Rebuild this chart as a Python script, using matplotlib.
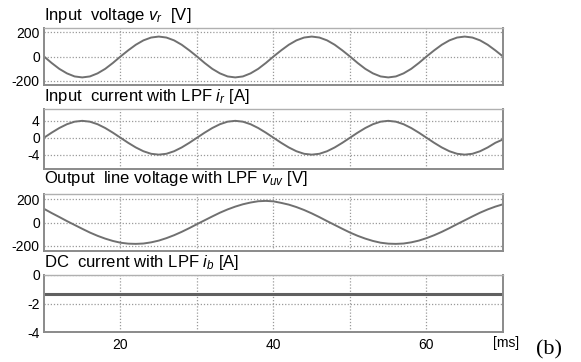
import matplotlib
matplotlib.use("Agg")
import matplotlib.pyplot as plt

plt.rcParams['font.family'] = ['Liberation Sans', 'DejaVu Sans']
plt.rcParams['mathtext.fontset'] = 'custom'
plt.rcParams['mathtext.rm'] = 'Liberation Sans'
plt.rcParams['mathtext.it'] = 'Liberation Sans:italic'

# time axis [ms]
t = list(range(10, 71))

# Input voltage v_r [V]
vr = [0, -53, -101, -138, -163, -171, -163, -138, -101, -53,
      0, 50, 96, 132, 155, 163, 155, 132, 96, 50,
      0, -53, -101, -138, -163, -171, -163, -138, -101, -53,
      0, 50, 96, 132, 155, 163, 155, 132, 96, 50,
      0, -53, -101, -138, -163, -171, -163, -138, -101, -53,
      0, 50, 96, 132, 155, 163, 155, 132, 96, 50,
      0]

# Input current with LPF i_r [A]
ir = [0, 1.2, 2.3, 3.2, 3.8, 4.0, 3.8, 3.2, 2.3, 1.2,
      0, -1.2, -2.3, -3.2, -3.8, -4.0, -3.8, -3.2, -2.3, -1.2,
      0, 1.2, 2.3, 3.2, 3.8, 4.0, 3.8, 3.2, 2.3, 1.2,
      0, -1.2, -2.3, -3.2, -3.8, -4.0, -3.8, -3.2, -2.3, -1.2,
      0, 1.2, 2.3, 3.2, 3.8, 4.0, 3.8, 3.2, 2.3, 1.2,
      0, -1.2, -2.3, -3.2, -3.8, -4.0, -3.8, -3.2, -2.3, -1.2,
      -0.4]

# Output line voltage with LPF v_uv [V]
vuv = [118, 82, 48, 13, -20, -53, -85, -113, -137, -157,
       -172, -180, -182, -179, -169, -154, -133, -108, -79, -47,
       -13, 20, 53, 85, 113, 137, 157, 172, 183, 186,
       182, 169, 154, 133, 108, 79, 47, 13, -20, -53,
       -85, -113, -137, -157, -172, -180, -182, -179, -169, -154,
       -133, -108, -79, -47, -13, 20, 53, 85, 113, 137,
       157]

# DC current with LPF i_b [A]
ib = [-1.33, -1.33, -1.33, -1.33, -1.33, -1.33, -1.33, -1.33, -1.33, -1.33,
      -1.33, -1.33, -1.33, -1.33, -1.33, -1.33, -1.33, -1.33, -1.33, -1.33,
      -1.33, -1.33, -1.33, -1.33, -1.33, -1.33, -1.33, -1.33, -1.33, -1.33,
      -1.33, -1.33, -1.33, -1.33, -1.33, -1.33, -1.33, -1.33, -1.33, -1.33,
      -1.33, -1.33, -1.33, -1.33, -1.33, -1.33, -1.33, -1.33, -1.33, -1.33,
      -1.33, -1.33, -1.33, -1.33, -1.33, -1.33, -1.33, -1.33, -1.33, -1.33,
      -1.33]

titles = ["Input  voltage $v_r$  [V]",
          "Input  current with LPF $i_r$ [A]",
          "Output  line voltage with LPF $v_{uv}$ [V]",
          "DC  current with LPF $i_b$ [A]"]
series = [vr, ir, vuv, ib]
yticks = [[-200, 0, 200], [-4, 0, 4], [-200, 0, 200], [-4, -2, 0]]
ylims = [(-233, 233), (-7.4, 6.8), (-243, 245), (-4, 0)]
xticks = [20, 30, 40, 50, 60]
xticklabels = ["20", "", "40", "", "60"]

W, H = 581, 362
fig = plt.figure(figsize=(W / 100, H / 100), dpi=100)

# pixel boxes (top, bottom)
boxes = [(28, 85), (109, 169), (194, 251), (275, 332)]
title_base = [20, 101, 183, 267]
left, right = 44, 503

line_c = '#707070'
grid_c = '#9a9a9a'
spine_c = '#8a8a8a'

for i in range(4):
    top, bot = boxes[i]
    ax = fig.add_axes([left / W, 1 - bot / H, (right - left) / W, (bot - top) / H])
    ax.plot(t, series[i], color=line_c if i < 3 else '#606060',
            lw=1.4 if i < 3 else 2.2, solid_capstyle='butt')
    ax.set_xlim(10, 70)
    ax.set_ylim(*ylims[i])
    ax.set_yticks(yticks[i])
    ax.set_yticklabels([str(v) for v in yticks[i]])
    ax.set_xticks(xticks)
    if i == 3:
        ax.set_xticklabels(xticklabels)
    else:
        ax.set_xticklabels([])
    ax.tick_params(length=0, labelsize=10, pad=3, colors='black')
    ax.tick_params(axis='x', pad=4)
    ax.grid(True, linestyle=(0, (1, 1.5)), color=grid_c, lw=0.9)
    for s in ['left', 'bottom', 'right']:
        ax.spines[s].set_color(spine_c)
        ax.spines[s].set_linewidth(1.4)
    ax.spines['top'].set_color('#b0b0b0')
    ax.spines['top'].set_linewidth(1.0)
    fig.text(44 / W, 1 - title_base[i] / H, titles[i], fontsize=12,
             ha='left', va='baseline')

fig.text(493 / W, 1 - 343 / H, "[ms]", fontsize=10, ha='left', va='center')
fig.text(536 / W, 1 - 350 / H, "(b)", fontsize=16, ha='left', va='center',
         family='Liberation Serif')

fig.savefig("out.png", dpi=100)
